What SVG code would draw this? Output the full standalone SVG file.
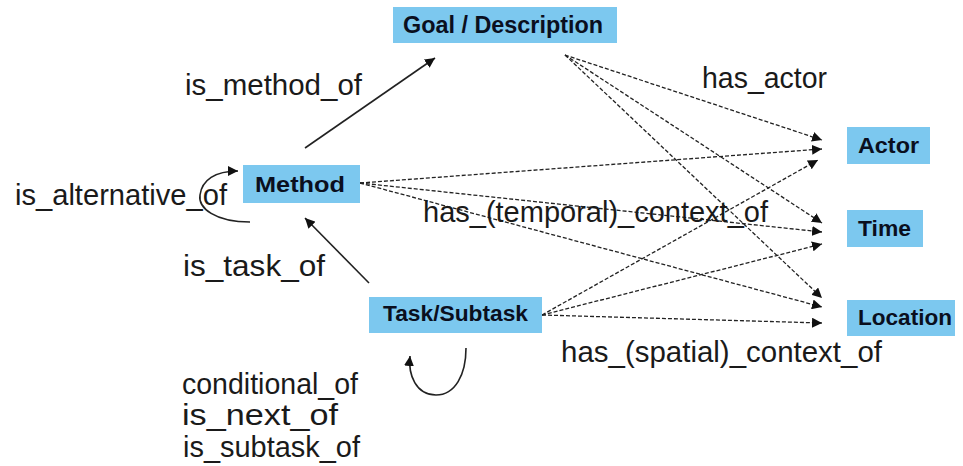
<svg xmlns="http://www.w3.org/2000/svg" width="963" height="466" viewBox="0 0 963 466">
<style>
.box{fill:#7cc8ef}
.bl{font-family:"Liberation Sans",Arial,sans-serif;font-weight:bold;font-size:22px;fill:#0a0f1e}
.lb{font-family:"Liberation Sans",Arial,sans-serif;font-size:29px;fill:#1a1a1a}
.solid{fill:none;stroke:#222;stroke-width:1.6}
.dash{fill:none;stroke:#222;stroke-width:1.3;stroke-dasharray:4 2}
</style>
<defs>
<marker id="ah" viewBox="0 0 10 10" refX="10" refY="5" markerWidth="10" markerHeight="10" markerUnits="userSpaceOnUse" orient="auto">
<path d="M0,0 L10,5 L0,10 z" fill="#111"/>
</marker>
</defs>
<rect width="963" height="466" fill="#fff"/>
<g id="connectors">
<path class="solid" d="M305,148 L435,58" marker-end="url(#ah)"/>
<path class="solid" d="M369,283 L305,218" marker-end="url(#ah)"/>
<path class="solid" d="M250,222 C215,222 198,208 200,195 C202,180 215,171 238,171" marker-end="url(#ah)"/>
<path class="solid" d="M466,348 C466,375 455,395 436,395 C416,395 408,375 410,356" marker-end="url(#ah)"/>
<path class="dash" d="M565,55 L822,140" marker-end="url(#ah)"/>
<path class="dash" d="M565,55 L822,223" marker-end="url(#ah)"/>
<path class="dash" d="M565,55 L822,298" marker-end="url(#ah)"/>
<path class="dash" d="M360,183 L822,149" marker-end="url(#ah)"/>
<path class="dash" d="M360,183 L822,232" marker-end="url(#ah)"/>
<path class="dash" d="M360,183 L822,307" marker-end="url(#ah)"/>
<path class="dash" d="M542,315 L818,160" marker-end="url(#ah)"/>
<path class="dash" d="M542,315 L822,244" marker-end="url(#ah)"/>
<path class="dash" d="M542,315 L822,323" marker-end="url(#ah)"/>
</g>
<g id="goal">
<rect class="box" x="393" y="7" width="224" height="36"/>
<text class="bl" x="403" y="33" style="font-size:23px" textLength="200" lengthAdjust="spacingAndGlyphs">Goal / Description</text>
</g>
<g id="method">
<rect class="box" x="243" y="165" width="117" height="38"/>
<text class="bl" x="255" y="192" textLength="90" lengthAdjust="spacingAndGlyphs">Method</text>
</g>
<g id="task">
<rect class="box" x="369" y="297" width="173" height="36"/>
<text class="bl" x="383" y="321" textLength="145" lengthAdjust="spacingAndGlyphs">Task/Subtask</text>
</g>
<g id="actor">
<rect class="box" x="847" y="127" width="83" height="37"/>
<text class="bl" x="858" y="153" textLength="61" lengthAdjust="spacingAndGlyphs">Actor</text>
</g>
<g id="time">
<rect class="box" x="847" y="210" width="76" height="37"/>
<text class="bl" x="858" y="236" textLength="53" lengthAdjust="spacingAndGlyphs">Time</text>
</g>
<g id="location">
<rect class="box" x="847" y="300" width="108" height="36"/>
<text class="bl" x="858" y="325" textLength="94" lengthAdjust="spacingAndGlyphs">Location</text>
</g>
<g id="labels">
<text class="lb" x="185" y="95" textLength="177" lengthAdjust="spacingAndGlyphs">is_method_of</text>
<text class="lb" x="702" y="88" textLength="125" lengthAdjust="spacingAndGlyphs">has_actor</text>
<text class="lb" x="15" y="205" textLength="212" lengthAdjust="spacingAndGlyphs">is_alternative_of</text>
<text class="lb" x="423" y="222" textLength="345" lengthAdjust="spacingAndGlyphs">has_(temporal)_context_of</text>
<text class="lb" x="183" y="276" textLength="142" lengthAdjust="spacingAndGlyphs">is_task_of</text>
<text class="lb" x="561" y="362" textLength="321" lengthAdjust="spacingAndGlyphs">has_(spatial)_context_of</text>
<text class="lb" x="182" y="394" textLength="176" lengthAdjust="spacingAndGlyphs">conditional_of</text>
<text class="lb" x="182" y="425" textLength="156" lengthAdjust="spacingAndGlyphs">is_next_of</text>
<text class="lb" x="183" y="457" textLength="177" lengthAdjust="spacingAndGlyphs">is_subtask_of</text>
</g>
</svg>
